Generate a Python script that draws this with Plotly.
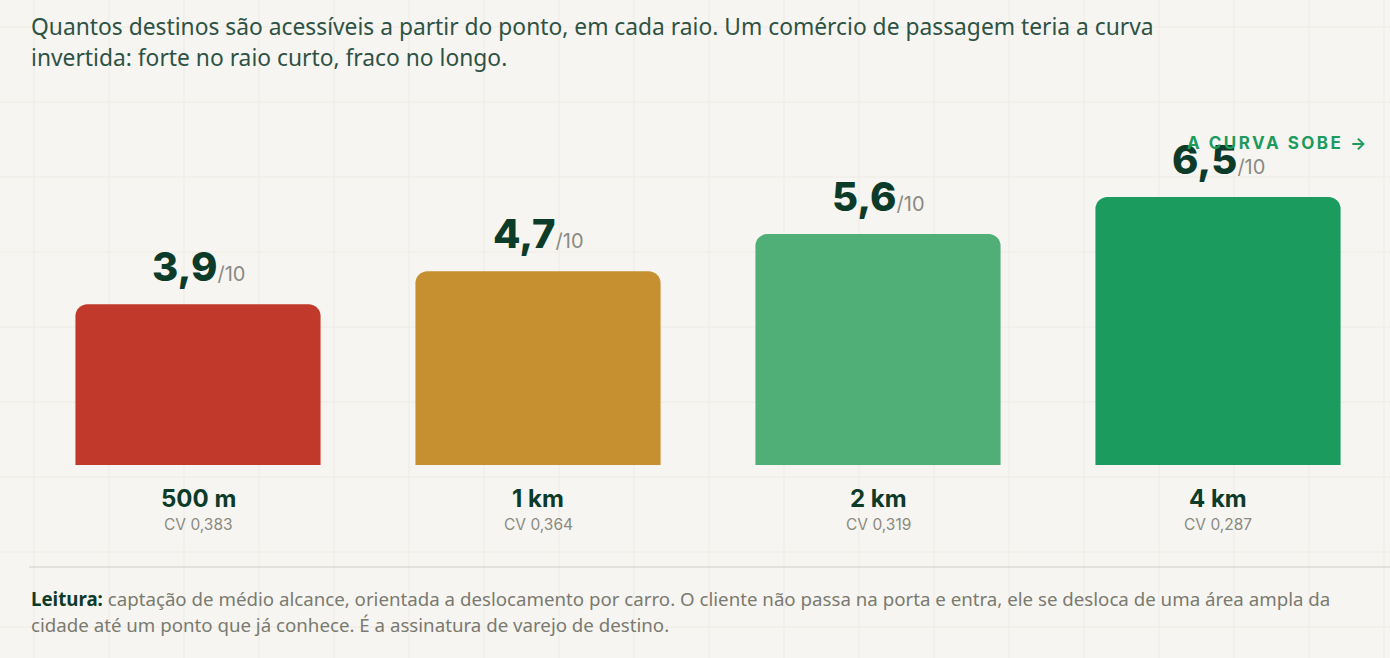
import plotly.graph_objects as go

# Data
raios = ["500 m", "1 km", "2 km", "4 km"]
notas = [3.9, 4.7, 5.6, 6.5]
notas_txt = ["3,9", "4,7", "5,6", "6,5"]
cv_txt = ["CV 0,383", "CV 0,364", "CV 0,319", "CV 0,287"]
cores = ["#C0392B", "#C69030", "#4FAF76", "#1B9B5D"]

W, H = 1390, 658
ML, MR, MT, MB = 28, 2, 135, 193
PW, PH = W - ML - MR, H - MT - MB

BG = "#F7F5F1"
DARK = "#0D3B2A"
GRAY = "#8A8A82"


def px(X):
    return (X - ML) / PW


def py(Y):
    return (H - MB - Y) / PH


fig = go.Figure()

fig.add_trace(go.Bar(
    x=raios,
    y=notas,
    marker=dict(color=cores, cornerradius=12, line=dict(width=0)),
    hoverinfo="skip",
    showlegend=False,
))

# value labels above bars
for r, v, t in zip(raios, notas, notas_txt):
    fig.add_annotation(
        x=r, y=v, xref="x", yref="y",
        text=f"{t}<span style='font-size:20px;color:{GRAY};font-weight:400'>/10</span>",
        showarrow=False, yanchor="bottom", yshift=11,
        font=dict(family="Inter", size=40, color=DARK, weight=800),
    )

# category labels below bars
for r, c in zip(raios, cv_txt):
    fig.add_annotation(
        x=r, y=0, xref="x", yref="y", text=r, showarrow=False,
        yanchor="middle", yshift=-33,
        font=dict(family="Inter", size=24, color=DARK, weight=700),
    )
    fig.add_annotation(
        x=r, y=0, xref="x", yref="y", text=c, showarrow=False,
        yanchor="middle", yshift=-59,
        font=dict(family="Inter", size=15.5, color=GRAY),
    )

# title
title_lines = [
    "Quantos destinos são acessíveis a partir do ponto, em cada raio. Um comércio de passagem teria a curva",
    "invertida: forte no raio curto, fraco no longo.",
]
for i, ln in enumerate(title_lines):
    fig.add_annotation(
        x=px(29), y=py(27 + 31 * i), xref="paper", yref="paper", text=ln,
        showarrow=False, xanchor="left", yanchor="middle",
        font=dict(family="Noto Sans", size=22.8, color="#2E5244"),
    )

# "A CURVA SOBE" tag
fig.add_annotation(
    x=px(1371), y=py(143), xref="paper", yref="paper",
    text="<span style='letter-spacing:2.5px'>A CURVA SOBE →</span>",
    showarrow=False, xanchor="right", yanchor="middle",
    font=dict(family="Inter", size=17, color="#1B9B5D", weight=700),
)

# footer
foot_lines = [
    f"<span style='color:{DARK}'><b>Leitura:</b></span> captação de médio alcance, orientada a deslocamento por carro. O cliente não passa na porta e entra, ele se desloca de uma área ampla da",
    "cidade até um ponto que já conhece. É a assinatura de varejo de destino.",
]
for i, ln in enumerate(foot_lines):
    fig.add_annotation(
        x=px(29), y=py(598 + 26 * i), xref="paper", yref="paper", text=ln,
        showarrow=False, xanchor="left", yanchor="middle",
        font=dict(family="Noto Sans", size=18.7, color="#7A7A70"),
    )

# background grid and separator
shapes = []
for X in range(34, W, 75):
    shapes.append(dict(type="line", xref="paper", yref="paper", x0=px(X), x1=px(X),
                       y0=py(0), y1=py(H), line=dict(color="#EEEBE5", width=1), layer="below"))
for Y in range(27, H, 75):
    shapes.append(dict(type="line", xref="paper", yref="paper", x0=px(0), x1=px(W),
                       y0=py(Y), y1=py(Y), line=dict(color="#EEEBE5", width=1), layer="below"))
shapes.append(dict(type="line", xref="paper", yref="paper", x0=px(29), x1=px(W),
                   y0=py(567), y1=py(567), line=dict(color="#DDDAD4", width=1.5)))

fig.update_layout(
    width=W, height=H,
    margin=dict(l=ML, r=MR, t=MT, b=MB),
    paper_bgcolor=BG, plot_bgcolor="rgba(0,0,0,0)",
    bargap=0.279,
    xaxis=dict(showticklabels=False, showgrid=False, zeroline=False, range=[-0.5, 3.5]),
    yaxis=dict(showticklabels=False, showgrid=False, zeroline=False, range=[0, 8]),
    shapes=shapes,
)

fig.write_html(
    "out.html",
    config={"displayModeBar": False},
    post_script="document.body.style.margin='0';document.body.style.background='#F7F5F1';",
)
